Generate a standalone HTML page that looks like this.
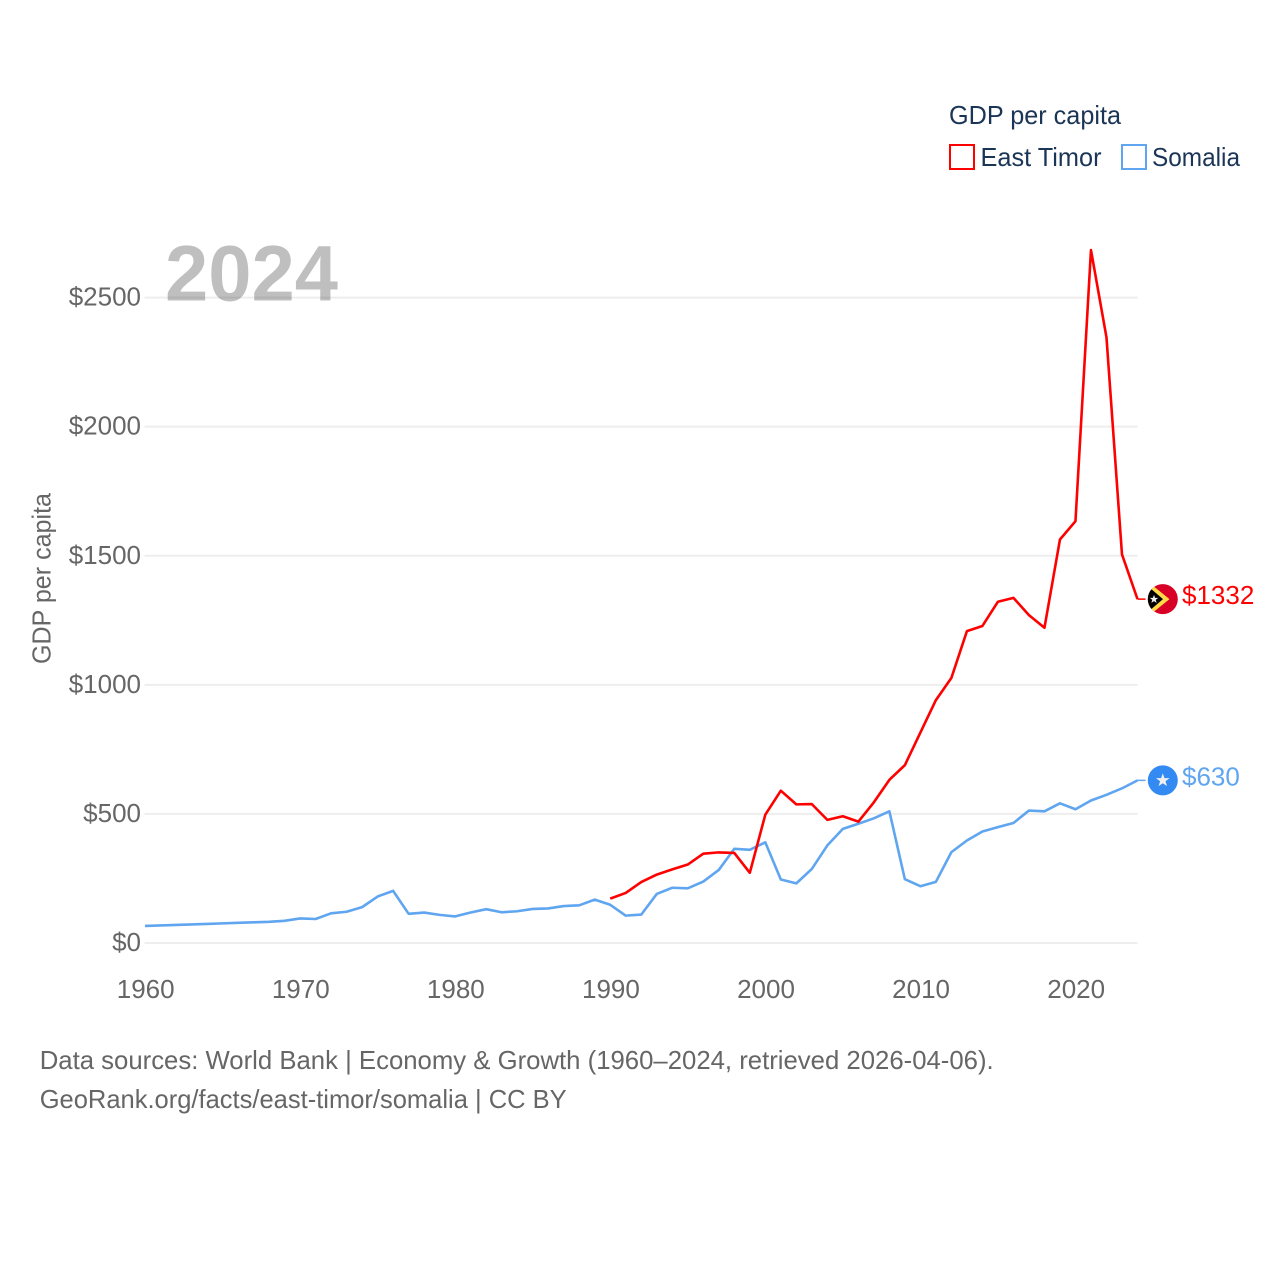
<!DOCTYPE html>
<html lang="en">
<head>
<meta charset="utf-8">
<title>GDP per capita: East Timor and Somalia</title>
<style>
  html, body { margin: 0; padding: 0; background: #fff; }
  body { width: 1280px; height: 1280px; overflow: hidden; }
  svg { display: block; font-family: "Liberation Sans", "DejaVu Sans", sans-serif; }
  .tick { font-size: 26px; fill: #666; }
  .legend-text { font-size: 26px; fill: #1b3556; }
  .footer { font-size: 26px; fill: #666; }
</style>
</head>
<body>
<svg id="chart" xmlns="http://www.w3.org/2000/svg" width="1280" height="1280" viewBox="0 0 1280 1280">
  <defs>
    <clipPath id="flag-clip-tl"><circle cx="1162.8" cy="598.2" r="15"></circle></clipPath>
  </defs>
  <rect x="0" y="0" width="1280" height="1280" fill="#fff"></rect>

  <g id="grid"></g>
  <g id="y-ticks"></g>
  <g id="x-ticks"></g>

  <text x="165" y="300.5" font-size="79" font-weight="700" fill="#000" fill-opacity="0.25" textLength="173" lengthAdjust="spacingAndGlyphs">2024</text>

  <text class="tick" transform="translate(50.7 664) rotate(-90)" textLength="171" lengthAdjust="spacingAndGlyphs">GDP per capita</text>

  <g id="series"></g>

  <g>
    <text class="legend-text" x="949" y="124.2" textLength="172" lengthAdjust="spacingAndGlyphs">GDP per capita</text>
    <rect x="950" y="145" width="24" height="24" fill="none" stroke="#ff0000" stroke-width="2"></rect>
    <text class="legend-text" x="980.5" y="166.2" textLength="121" lengthAdjust="spacingAndGlyphs">East Timor</text>
    <rect x="1122" y="145" width="24" height="24" fill="none" stroke="#60a5f0" stroke-width="2"></rect>
    <text class="legend-text" x="1152" y="166.2" textLength="88" lengthAdjust="spacingAndGlyphs">Somalia</text>
  </g>

  <g id="flag-east-timor">
    <circle cx="1162.8" cy="598.2" r="15" fill="#d80027"></circle>
    <g clip-path="url(#flag-clip-tl)">
      <polygon points="1147,580 1169.5,598.2 1147,616.4" fill="#ffda44"></polygon>
      <polygon points="1147,584.5 1163,598.2 1147,611.9" fill="#000"></polygon>
    </g>
    <polygon points="1154,594 1155.1,597 1158.2,597 1155.7,598.9 1156.7,602 1154,600.2 1151.3,602 1152.3,598.9 1149.8,597 1152.9,597" fill="#f0f0f0"></polygon>
  </g>

  <g id="flag-somalia">
    <circle cx="1162.8" cy="779.6" r="15" fill="#338af3"></circle>
    <polygon points="1162.8,772.6 1164.5,777.4 1169.6,777.4 1165.5,780.5 1167,785.4 1162.8,782.5 1158.6,785.4 1160.1,780.5 1156,777.4 1161.1,777.4" fill="#f0f0f0"></polygon>
  </g>

  <text id="value-east-timor" x="1182" y="605" font-size="26" fill="#ff0000"></text>
  <text id="value-somalia" x="1182" y="786.5" font-size="26" fill="#60a5f0"></text>

  <text class="footer" x="39.7" y="1069" textLength="954" lengthAdjust="spacingAndGlyphs">Data sources: World Bank | Economy &amp; Growth (1960–2024, retrieved 2026-04-06).</text>
  <text class="footer" x="39.7" y="1108" textLength="527" lengthAdjust="spacingAndGlyphs">GeoRank.org/facts/east-timor/somalia | CC BY</text>
</svg>

<script>
const years = [1960,1961,1962,1963,1964,1965,1966,1967,1968,1969,1970,1971,1972,1973,1974,1975,1976,1977,1978,1979,1980,1981,1982,1983,1984,1985,1986,1987,1988,1989,1990,1991,1992,1993,1994,1995,1996,1997,1998,1999,2000,2001,2002,2003,2004,2005,2006,2007,2008,2009,2010,2011,2012,2013,2014,2015,2016,2017,2018,2019,2020,2021,2022,2023,2024];

const somaliaValues = [66,68,70,72,74,76,78,80,82,86,95,93,115,121,139,180,202,113,118,109,103,118,131,119,123,132,134,143,146,168,148,106,110,190,214,212,238,283,365,361,390,246,231,287,378,442,462,483,510,247,220,237,352,397,432,449,465,513,510,541,518,552,574,599,630];

const eastTimorYears = [1990,1991,1992,1993,1994,1995,1996,1997,1998,1999,2000,2001,2002,2003,2004,2005,2006,2007,2008,2009,2010,2011,2012,2013,2014,2015,2016,2017,2018,2019,2020,2021,2022,2023,2024];

const eastTimorValues = [172,194,236,265,285,304,346,351,349,272,497,590,537,538,477,491,470,545,632,689,815,941,1027,1208,1228,1322,1337,1270,1221,1563,1634,2684,2346,1505,1332];

const yTickValues = [0,500,1000,1500,2000,2500];
const yTickLabels = ["$0","$500","$1000","$1500","$2000","$2500"];
const xTickValues = [1960,1970,1980,1990,2000,2010,2020];
const xTickLabels = ["1960","1970","1980","1990","2000","2010","2020"];

const SVG_NS = "http://www.w3.org/2000/svg";
const xAt = function (year) { return 145 + (year - 1960) * (1137.5 - 145) / 64; };
const yAt = function (value) { return 943 - value * (943 - 297.6) / 2500; };

const gridGroup = document.getElementById("grid");
const yTickGroup = document.getElementById("y-ticks");
const xTickGroup = document.getElementById("x-ticks");
const seriesGroup = document.getElementById("series");

yTickValues.forEach(function (value, i) {
  const line = document.createElementNS(SVG_NS, "line");
  line.setAttribute("x1", 144.5);
  line.setAttribute("x2", 1137.8);
  line.setAttribute("y1", yAt(value));
  line.setAttribute("y2", yAt(value));
  line.setAttribute("stroke", "#eeeeee");
  line.setAttribute("stroke-width", 2);
  
  
  gridGroup.appendChild(line);

  const label = document.createElementNS(SVG_NS, "text");
  label.setAttribute("class", "tick");
  label.setAttribute("x", 141);
  label.setAttribute("y", yAt(value) + 8);
  label.setAttribute("text-anchor", "end");
  label.textContent = yTickLabels[i];
  
  
  yTickGroup.appendChild(label);
});

xTickValues.forEach(function (year, i) {
  const label = document.createElementNS(SVG_NS, "text");
  label.setAttribute("class", "tick");
  label.setAttribute("x", xAt(year) + 0.7);
  label.setAttribute("y", 998);
  label.setAttribute("text-anchor", "middle");
  label.textContent = xTickLabels[i];
  
  
  xTickGroup.appendChild(label);
});

function pathFrom(xs, ys) {
  return xs.map(function (year, i) {
    return (i === 0 ? "M" : "L") + xAt(year).toFixed(2) + " " + yAt(ys[i]).toFixed(2);
  }).join(" ");
}

function connectorPath(xs, ys) {
  const last = ys[ys.length - 1];
  const lastX = xAt(xs[xs.length - 1]);
  return "M" + lastX.toFixed(2) + " " + yAt(last).toFixed(2) + " L" + (lastX + 8).toFixed(2) + " " + yAt(last).toFixed(2);
}

const somaliaLine = document.createElementNS(SVG_NS, "path");
somaliaLine.setAttribute("d", pathFrom(years, somaliaValues));
somaliaLine.setAttribute("fill", "none");
somaliaLine.setAttribute("stroke", "#60a5f0");
somaliaLine.setAttribute("stroke-width", 2.6);
somaliaLine.setAttribute("stroke-linejoin", "round");


seriesGroup.appendChild(somaliaLine);

const eastTimorLine = document.createElementNS(SVG_NS, "path");
eastTimorLine.setAttribute("d", pathFrom(eastTimorYears, eastTimorValues));
eastTimorLine.setAttribute("fill", "none");
eastTimorLine.setAttribute("stroke", "#ff0000");
eastTimorLine.setAttribute("stroke-width", 2.6);
eastTimorLine.setAttribute("stroke-linejoin", "round");


seriesGroup.appendChild(eastTimorLine);

const somaliaConnector = document.createElementNS(SVG_NS, "path");
somaliaConnector.setAttribute("d", connectorPath(years, somaliaValues));
somaliaConnector.setAttribute("fill", "none");
somaliaConnector.setAttribute("stroke", "#60a5f0");
somaliaConnector.setAttribute("stroke-width", 1.5);


seriesGroup.appendChild(somaliaConnector);

const eastTimorConnector = document.createElementNS(SVG_NS, "path");
eastTimorConnector.setAttribute("d", connectorPath(eastTimorYears, eastTimorValues));
eastTimorConnector.setAttribute("fill", "none");
eastTimorConnector.setAttribute("stroke", "#ff0000");
eastTimorConnector.setAttribute("stroke-width", 1.5);


seriesGroup.appendChild(eastTimorConnector);

const lastEastTimor = eastTimorValues[eastTimorValues.length - 1];
const lastSomalia = somaliaValues[somaliaValues.length - 1];
const valueEastTimor = document.getElementById("value-east-timor");
const valueSomalia = document.getElementById("value-somalia");
valueEastTimor.textContent = "$" + lastEastTimor;
valueSomalia.textContent = "$" + lastSomalia;
valueEastTimor.setAttribute("y", yAt(lastEastTimor) + 5);
valueSomalia.setAttribute("y", yAt(lastSomalia) + 5);
document.getElementById("flag-east-timor").setAttribute("transform", "translate(0 " + (yAt(lastEastTimor) - 598.2).toFixed(2) + ")");
document.getElementById("flag-somalia").setAttribute("transform", "translate(0 " + (yAt(lastSomalia) - 779.6).toFixed(2) + ")");
</script>
</body>
</html>
